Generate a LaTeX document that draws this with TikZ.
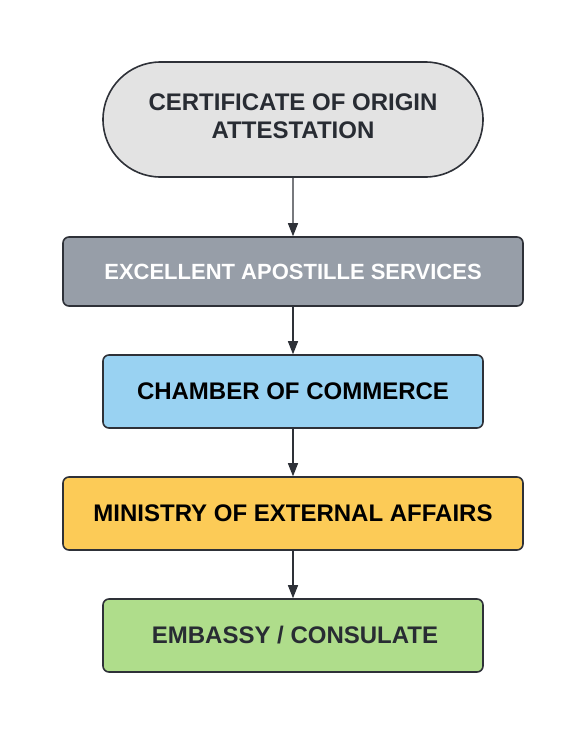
\documentclass[tikz,border=0pt]{standalone}
\usepackage{fontspec}
\setmainfont{Liberation Sans}
\usetikzlibrary{shapes.misc,arrows.meta}

\definecolor{linegray}{HTML}{2E3138}
\definecolor{textgray}{HTML}{282C33}
\definecolor{startfill}{HTML}{E3E3E3}
\definecolor{agentfill}{HTML}{979EA8}
\definecolor{chamberfill}{HTML}{99D2F2}
\definecolor{ministryfill}{HTML}{FCCB57}
\definecolor{embassyfill}{HTML}{AFDD8B}

\tikzset{
  stepbase/.style={draw=linegray, line width=1.6pt, inner sep=0pt,
    font=\fontsize{24}{28}\selectfont\bfseries, align=center},
  startnode/.style={stepbase, rounded rectangle, fill=startfill, text=textgray,
    minimum width=380pt, minimum height=115pt},
  widebox/.style={stepbase, rectangle, rounded corners=6pt,
    minimum width=460pt, minimum height=#1},
  narrowbox/.style={stepbase, rectangle, rounded corners=6pt,
    minimum width=380pt, minimum height=73pt},
  flow/.style={draw=linegray, line width=1.4pt,
    -{Triangle[length=13pt,width=10pt]}}
}

\begin{document}
\begin{tikzpicture}[x=1pt,y=-1pt]
\useasboundingbox (0,0) rectangle (587,737);

% steps
\node[startnode] (origin) at (293,119.5) {CERTIFICATE OF ORIGIN\\ATTESTATION\\[-22pt]};
\node[widebox=69pt, fill=agentfill, text=white, font=\fontsize{22}{26}\selectfont\bfseries] (agent) at (293,271.5) {EXCELLENT APOSTILLE SERVICES};
\node[narrowbox, fill=chamberfill, text=black] (chamber) at (293,391.5) {CHAMBER OF COMMERCE};
\node[widebox=73pt, fill=ministryfill, text=black] (ministry) at (293,513.5) {MINISTRY OF EXTERNAL AFFAIRS};
\node[narrowbox, fill=embassyfill, text=textgray] (embassy) at (293,635.5) {\hspace{4pt}EMBASSY / CONSULATE};

% arrows
\draw[flow] (origin) -- (agent);
\draw[flow] (agent) -- (chamber);
\draw[flow] (chamber) -- (ministry);
\draw[flow] (ministry) -- (embassy);
\end{tikzpicture}
\end{document}
